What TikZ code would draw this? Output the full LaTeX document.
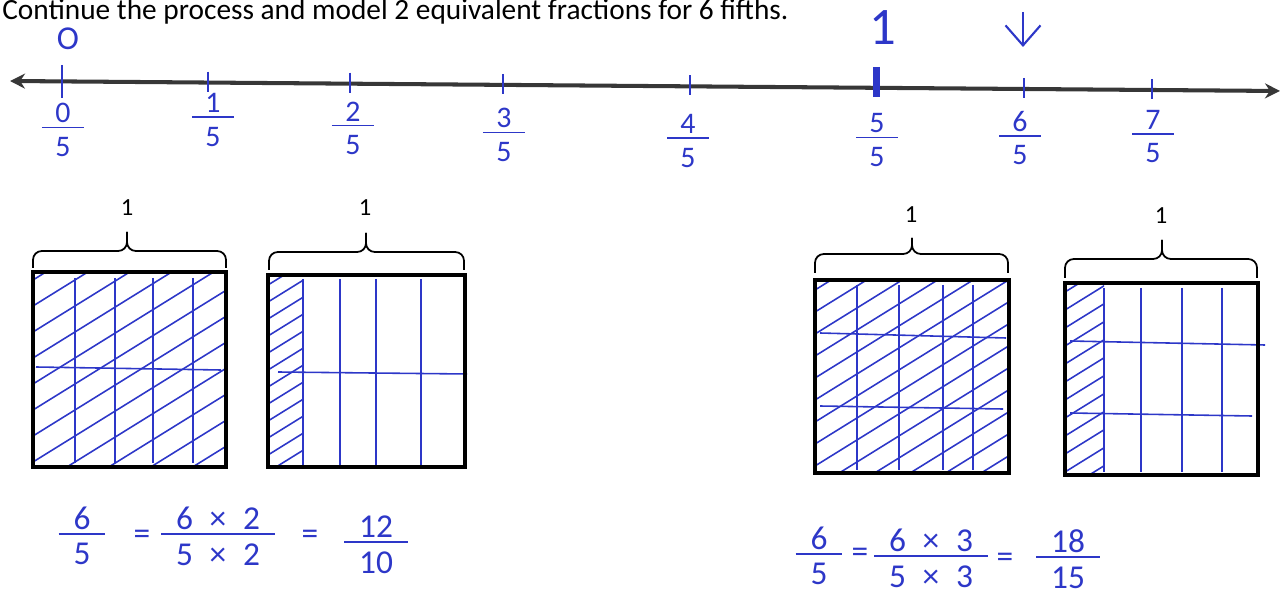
\documentclass[tikz,border=0pt]{standalone}
\usepackage{fontspec}
\setmainfont{Carlito}
\usepackage{tikz}
\usetikzlibrary{arrows.meta, positioning}

\definecolor{pen}{RGB}{45,55,200}
\definecolor{axisgray}{RGB}{55,55,55}
\newcommand{\penfrac}[2]{\vbox{\halign{\kern.45em\hfil##\hfil\kern.45em\cr #1\cr\noalign{\kern2pt\hrule height .9pt\kern5pt}#2\cr}}}

\begin{document}
\begin{tikzpicture}[x=0.02cm, y=-0.02cm, >={Stealth[length=3mm, width=3mm]},
		prompt/.style={font=\fontsize{16.7}{19}\selectfont, anchor=base west, inner sep=0pt},
		unitlabel/.style={font=\fontsize{14}{16}\selectfont, inner sep=0pt},
		hand/.style={text=pen, inner sep=0pt},
		tickfrac/.style={hand, font=\fontsize{17}{20}\selectfont},
		eqn/.style={hand, font=\fontsize{19}{22}\selectfont},
		tickmark/.style={draw=pen, line width=1.1pt},
		square/.style={draw=black, line width=2.3pt},
		gridline/.style={draw=pen, line width=0.9pt},
		hatch/.style={draw=pen, line width=0.9pt},
		bracket/.style={draw=black, line width=1pt, rounded corners=5pt}]
		
		\useasboundingbox (0,0) rectangle (1283,597);
		
		% Aufgabe
		\node[prompt] (prompt) at (2,20) {Continue the process and model 2 equivalent fractions for 6 fifths.};
		
		% Zahlenstrahl
		\coordinate (lft) at (10,81);
		\coordinate (rgt) at (1280,91);
		\draw[<->, axisgray, line width=2.3pt] (lft) -- (rgt);
		
		\foreach \x/\n in {62/0,208/1,350/2,503/3,690/4,876/5,1024/6,1152/7}
			\coordinate (t\n) at (\x,{81+10*(\x-10)/1270});
		
		\foreach \n in {1,2,3,4,6,7}
			\draw[tickmark] ([yshift=0.22cm]t\n) -- ([yshift=-0.18cm]t\n);
		\draw[tickmark, line width=1.7pt] ([yshift=0.33cm]t0) -- ([yshift=-0.33cm]t0);
		\draw[tickmark, line width=4pt] ([yshift=0.42cm]t5) -- ([yshift=-0.18cm]t5);
		
		\node[hand, font=\fontsize{19}{22}\selectfont] (zero) at (68,39) {O};
		\node[hand, font=\fontsize{30}{34}\selectfont] (one) at (883,28) {1};
		
		\coordinate (arrtop) at (1023,12);
		\coordinate (arrtip) at (1023,47);
		\draw[pen, line width=1.2pt, -{Straight Barb[length=4mm, width=7mm]}] (arrtop) -- (arrtip);
		
		% Brueche
		\foreach \x/\y/\n in {63/130/0,213/120/1,353/128/2,504/135/3,688/141/4,877/140/5,1020/138/6,1153/137/7}
			\node[tickfrac] (f\n) at (\x,\y) {\penfrac{\n}{5}};
		
		% Modell A
		\begin{scope}
			\clip (35,274) rectangle (224,465);
			\foreach \k in {0,...,12}
				\draw[hatch] (33,{280+\k*26}) -- ++(250,-155);
		\end{scope}
		\foreach \x in {75,115,153,193}
			\draw[gridline] (\x,278) -- (\x,463);
		\draw[gridline] (36,367) -- (221,370);
		\draw[square] (33,272) rectangle (226,467);
		\node[unitlabel] (unitA) at (127,208) {1};
		
		% Modell B
		\begin{scope}
			\clip (270,277) rectangle (303,465);
			\foreach \k in {0,...,12}
				\draw[hatch] (268,{285+\k*17}) -- ++(100,-62);
		\end{scope}
		\foreach \x in {303,340,376,421}
			\draw[gridline] (\x,279) -- (\x,465);
		\draw[gridline] (278,372) -- (467,374);
		\draw[square] (268,275) rectangle (465,467);
		\node[unitlabel] (unitB) at (365,208) {1};
		
		% Modell C
		\begin{scope}
			\clip (817,282) rectangle (1007,471);
			\foreach \k in {0,...,14}
				\draw[hatch] (815,{290+\k*22}) -- ++(250,-155);
		\end{scope}
		\foreach \x in {857,899,943,973}
			\draw[gridline] (\x,285) -- (\x,470);
		\draw[gridline] (820,333) -- (1006,338);
		\draw[gridline] (820,406) -- (1003,409);
		\draw[square] (815,280) rectangle (1009,473);
		\node[unitlabel] (unitC) at (911,215) {1};
		
		% Modell D
		\begin{scope}
			\clip (1067,285) rectangle (1104,473);
			\foreach \k in {0,...,11}
				\draw[hatch] (1065,{292+\k*18}) -- ++(100,-62);
		\end{scope}
		\foreach \x in {1104,1141,1182,1222}
			\draw[gridline] (\x,288) -- (\x,472);
		\draw[gridline] (1070,341) -- (1265,345);
		\draw[gridline] (1070,413) -- (1252,416);
		\draw[square] (1065,283) rectangle (1258,475);
		\node[unitlabel] (unitD) at (1161,216) {1};
		
		% Klammern
		\foreach \a/\b/\m/\y/\h/\t in {33/226/127/268/251/232, 269/464/366/270/252/233, 815/1008/912/273/254/238, 1065/1257/1162/278/259/240} {
			\draw[bracket] (\a,\y) -- (\a,\h) -- (\m,\h) -- (\m,\t);
			\draw[bracket] (\b,\y) -- (\b,\h) -- (\m,\h) -- (\m,\t);
		}
		
		% Gleichungen
		\node[eqn] (lhsA) at (82,536) {\penfrac{6}{5}};
		\node[eqn] (eqA1) at (142,537) {=};
		\node[eqn] (mulA) at (218,536) {\penfrac{6\enspace×\enspace2}{5\enspace×\enspace2}};
		\node[eqn] (eqA2) at (310,537) {=};
		\node[eqn] (resA) at (376,545) {\penfrac{12}{10}};
		
		\node[eqn] (lhsB) at (819,556) {\penfrac{6}{5}};
		\node[eqn] (eqB1) at (860,555) {=};
		\node[eqn] (mulB) at (931,558) {\penfrac{6\enspace×\enspace3}{5\enspace×\enspace3}};
		\node[eqn] (eqB2) at (1005,560) {=};
		\node[eqn] (resB) at (1068,559) {\penfrac{18}{15}};
		
	\end{tikzpicture}
\end{document}
